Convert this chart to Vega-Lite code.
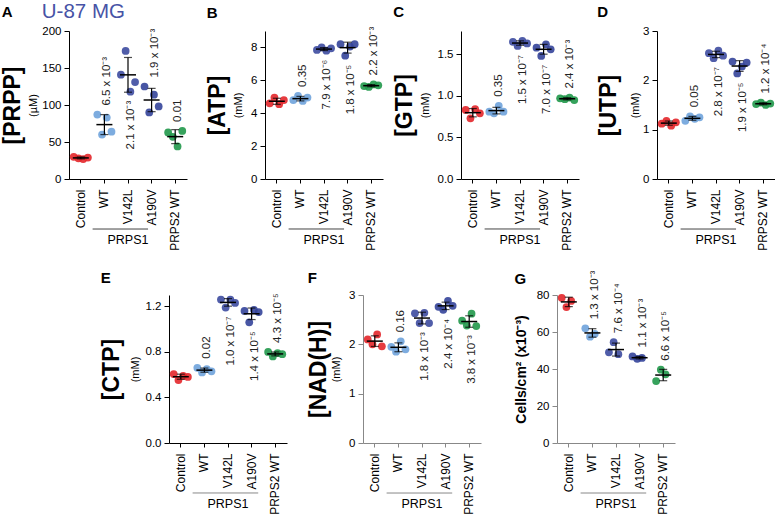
{
 "$schema": "https://vega.github.io/schema/vega-lite/v6.json",
 "padding": {"left": 1, "top": 2, "right": 0, "bottom": 0},
 "title": {"text": "U-87 MG", "fontSize": 20.5, "fontWeight": "normal", "color": "#4753A6", "anchor": "start", "dx": 40, "dy": 18, "offset": 0},
 "datasets": {
  "pts": [
   {"panel":"A","group":"Control","rep":1,"value":30},{"panel":"A","group":"Control","rep":2,"value":28},{"panel":"A","group":"Control","rep":3,"value":27},{"panel":"A","group":"Control","rep":4,"value":29},
   {"panel":"A","group":"WT","rep":1,"value":87},{"panel":"A","group":"WT","rep":2,"value":60},{"panel":"A","group":"WT","rep":3,"value":83},{"panel":"A","group":"WT","rep":4,"value":64},
   {"panel":"A","group":"V142L","rep":1,"value":141},{"panel":"A","group":"V142L","rep":2,"value":173},{"panel":"A","group":"V142L","rep":3,"value":118},{"panel":"A","group":"V142L","rep":4,"value":131},
   {"panel":"A","group":"A190V","rep":1,"value":125},{"panel":"A","group":"A190V","rep":2,"value":90},{"panel":"A","group":"A190V","rep":3,"value":114},{"panel":"A","group":"A190V","rep":4,"value":98},
   {"panel":"A","group":"PRPS2 WT","rep":1,"value":63},{"panel":"A","group":"PRPS2 WT","rep":2,"value":57},{"panel":"A","group":"PRPS2 WT","rep":3,"value":44},{"panel":"A","group":"PRPS2 WT","rep":4,"value":65},
   {"panel":"B","group":"Control","rep":1,"value":4.6},{"panel":"B","group":"Control","rep":2,"value":4.95},{"panel":"B","group":"Control","rep":3,"value":4.55},{"panel":"B","group":"Control","rep":4,"value":4.8},
   {"panel":"B","group":"WT","rep":1,"value":4.8},{"panel":"B","group":"WT","rep":2,"value":5.05},{"panel":"B","group":"WT","rep":3,"value":4.75},{"panel":"B","group":"WT","rep":4,"value":4.95},
   {"panel":"B","group":"V142L","rep":1,"value":7.85},{"panel":"B","group":"V142L","rep":2,"value":8.0},{"panel":"B","group":"V142L","rep":3,"value":7.8},{"panel":"B","group":"V142L","rep":4,"value":7.95},
   {"panel":"B","group":"A190V","rep":1,"value":8.2},{"panel":"B","group":"A190V","rep":2,"value":7.5},{"panel":"B","group":"A190V","rep":3,"value":8.05},{"panel":"B","group":"A190V","rep":4,"value":8.2},
   {"panel":"B","group":"PRPS2 WT","rep":1,"value":5.65},{"panel":"B","group":"PRPS2 WT","rep":2,"value":5.6},{"panel":"B","group":"PRPS2 WT","rep":3,"value":5.75},{"panel":"B","group":"PRPS2 WT","rep":4,"value":5.7},
   {"panel":"C","group":"Control","rep":1,"value":0.83},{"panel":"C","group":"Control","rep":2,"value":0.73},{"panel":"C","group":"Control","rep":3,"value":0.84},{"panel":"C","group":"Control","rep":4,"value":0.79},
   {"panel":"C","group":"WT","rep":1,"value":0.81},{"panel":"C","group":"WT","rep":2,"value":0.79},{"panel":"C","group":"WT","rep":3,"value":0.88},{"panel":"C","group":"WT","rep":4,"value":0.81},
   {"panel":"C","group":"V142L","rep":1,"value":1.65},{"panel":"C","group":"V142L","rep":2,"value":1.6},{"panel":"C","group":"V142L","rep":3,"value":1.66},{"panel":"C","group":"V142L","rep":4,"value":1.63},
   {"panel":"C","group":"A190V","rep":1,"value":1.58},{"panel":"C","group":"A190V","rep":2,"value":1.48},{"panel":"C","group":"A190V","rep":3,"value":1.62},{"panel":"C","group":"A190V","rep":4,"value":1.56},
   {"panel":"C","group":"PRPS2 WT","rep":1,"value":0.97},{"panel":"C","group":"PRPS2 WT","rep":2,"value":0.96},{"panel":"C","group":"PRPS2 WT","rep":3,"value":0.98},{"panel":"C","group":"PRPS2 WT","rep":4,"value":0.95},
   {"panel":"D","group":"Control","rep":1,"value":1.12},{"panel":"D","group":"Control","rep":2,"value":1.18},{"panel":"D","group":"Control","rep":3,"value":1.08},{"panel":"D","group":"Control","rep":4,"value":1.15},
   {"panel":"D","group":"WT","rep":1,"value":1.18},{"panel":"D","group":"WT","rep":2,"value":1.27},{"panel":"D","group":"WT","rep":3,"value":1.22},{"panel":"D","group":"WT","rep":4,"value":1.25},
   {"panel":"D","group":"V142L","rep":1,"value":2.55},{"panel":"D","group":"V142L","rep":2,"value":2.45},{"panel":"D","group":"V142L","rep":3,"value":2.6},{"panel":"D","group":"V142L","rep":4,"value":2.5},
   {"panel":"D","group":"A190V","rep":1,"value":2.38},{"panel":"D","group":"A190V","rep":2,"value":2.14},{"panel":"D","group":"A190V","rep":3,"value":2.28},{"panel":"D","group":"A190V","rep":4,"value":2.36},
   {"panel":"D","group":"PRPS2 WT","rep":1,"value":1.52},{"panel":"D","group":"PRPS2 WT","rep":2,"value":1.55},{"panel":"D","group":"PRPS2 WT","rep":3,"value":1.5},{"panel":"D","group":"PRPS2 WT","rep":4,"value":1.53},
   {"panel":"E","group":"Control","rep":1,"value":0.606},{"panel":"E","group":"Control","rep":2,"value":0.553},{"panel":"E","group":"Control","rep":3,"value":0.59},{"panel":"E","group":"Control","rep":4,"value":0.58},
   {"panel":"E","group":"WT","rep":1,"value":0.66},{"panel":"E","group":"WT","rep":2,"value":0.62},{"panel":"E","group":"WT","rep":3,"value":0.65},{"panel":"E","group":"WT","rep":4,"value":0.63},
   {"panel":"E","group":"V142L","rep":1,"value":1.26},{"panel":"E","group":"V142L","rep":2,"value":1.19},{"panel":"E","group":"V142L","rep":3,"value":1.26},{"panel":"E","group":"V142L","rep":4,"value":1.23},
   {"panel":"E","group":"A190V","rep":1,"value":1.16},{"panel":"E","group":"A190V","rep":2,"value":1.06},{"panel":"E","group":"A190V","rep":3,"value":1.17},{"panel":"E","group":"A190V","rep":4,"value":1.15},
   {"panel":"E","group":"PRPS2 WT","rep":1,"value":0.8},{"panel":"E","group":"PRPS2 WT","rep":2,"value":0.76},{"panel":"E","group":"PRPS2 WT","rep":3,"value":0.79},{"panel":"E","group":"PRPS2 WT","rep":4,"value":0.78},
   {"panel":"F","group":"Control","rep":1,"value":2.1},{"panel":"F","group":"Control","rep":2,"value":2.0},{"panel":"F","group":"Control","rep":3,"value":2.2},{"panel":"F","group":"Control","rep":4,"value":1.96},
   {"panel":"F","group":"WT","rep":1,"value":1.95},{"panel":"F","group":"WT","rep":2,"value":1.85},{"panel":"F","group":"WT","rep":3,"value":2.06},{"panel":"F","group":"WT","rep":4,"value":1.9},
   {"panel":"F","group":"V142L","rep":1,"value":2.63},{"panel":"F","group":"V142L","rep":2,"value":2.43},{"panel":"F","group":"V142L","rep":3,"value":2.64},{"panel":"F","group":"V142L","rep":4,"value":2.43},
   {"panel":"F","group":"A190V","rep":1,"value":2.76},{"panel":"F","group":"A190V","rep":2,"value":2.7},{"panel":"F","group":"A190V","rep":3,"value":2.88},{"panel":"F","group":"A190V","rep":4,"value":2.78},
   {"panel":"F","group":"PRPS2 WT","rep":1,"value":2.48},{"panel":"F","group":"PRPS2 WT","rep":2,"value":2.38},{"panel":"F","group":"PRPS2 WT","rep":3,"value":2.62},{"panel":"F","group":"PRPS2 WT","rep":4,"value":2.37},
   {"panel":"G","group":"Control","rep":1,"value":78.5},{"panel":"G","group":"Control","rep":2,"value":73.5},{"panel":"G","group":"Control","rep":3,"value":76.8},
   {"panel":"G","group":"WT","rep":1,"value":62},{"panel":"G","group":"WT","rep":2,"value":57.5},{"panel":"G","group":"WT","rep":3,"value":59},
   {"panel":"G","group":"V142L","rep":1,"value":49},{"panel":"G","group":"V142L","rep":2,"value":54.5},{"panel":"G","group":"V142L","rep":3,"value":48},
   {"panel":"G","group":"A190V","rep":1,"value":46.8},{"panel":"G","group":"A190V","rep":2,"value":45.5},{"panel":"G","group":"A190V","rep":3,"value":46},
   {"panel":"G","group":"PRPS2 WT","rep":1,"value":33.5},{"panel":"G","group":"PRPS2 WT","rep":2,"value":39.6},{"panel":"G","group":"PRPS2 WT","rep":3,"value":37.1}
  ],
  "grp": [{"label": "PRPS1", "from": "WT", "to": "A190V", "mid": "V142L"}],
  "pA": [{"group":"WT","p":"6.5 x 10⁻³","side":"up"},{"group":"V142L","p":"2.1 x 10⁻³","side":"down"},{"group":"A190V","p":"1.9 x 10⁻³","side":"up"},{"group":"PRPS2 WT","p":"0.01","side":"up"}],
  "pB": [{"group":"WT","p":"0.35","side":"up"},{"group":"V142L","p":"7.9 x 10⁻⁶","side":"down"},{"group":"A190V","p":"1.8 x 10⁻⁵","side":"down"},{"group":"PRPS2 WT","p":"2.2 x 10⁻³","side":"up"}],
  "pC": [{"group":"WT","p":"0.35","side":"up"},{"group":"V142L","p":"1.5 x 10⁻⁷","side":"down"},{"group":"A190V","p":"7.0 x 10⁻⁷","side":"down"},{"group":"PRPS2 WT","p":"2.4 x 10⁻³","side":"up"}],
  "pD": [{"group":"WT","p":"0.05","side":"up"},{"group":"V142L","p":"2.8 x 10⁻⁷","side":"down"},{"group":"A190V","p":"1.9 x 10⁻⁵","side":"down"},{"group":"PRPS2 WT","p":"1.2 x 10⁻⁴","side":"up"}],
  "pE": [{"group":"WT","p":"0.02","side":"up"},{"group":"V142L","p":"1.0  x 10⁻⁷","side":"down"},{"group":"A190V","p":"1.4 x 10⁻⁵","side":"down"},{"group":"PRPS2 WT","p":"4.3 x 10⁻⁵","side":"up"}],
  "pF": [{"group":"WT","p":"0.16","side":"up"},{"group":"V142L","p":"1.8 x 10⁻³","side":"down"},{"group":"A190V","p":"2.4 x 10⁻⁴","side":"down"},{"group":"PRPS2 WT","p":"3.8 x 10⁻³","side":"down"}],
  "pG": [{"group":"WT","p":"1.3 x 10⁻³","side":"up"},{"group":"V142L","p":"7.6 x 10⁻⁴","side":"up"},{"group":"A190V","p":"1.1 x 10⁻³","side":"up"},{"group":"PRPS2 WT","p":"6.6 x 10⁻⁵","side":"up"}]
 },
 "center": true,
 "spacing": 19,
 "vconcat": [
  {"hconcat": [
   {"width": 118, "height": 148, "title": {"text": "A", "offset": 5.5},
    "data": {"name": "pts"}, "transform": [{"filter": "datum.panel == 'A'"}],
    "encoding": {"x": {"field": "group", "type": "nominal", "scale": {"domain": ["Control","WT","V142L","A190V","PRPS2 WT"], "paddingInner": 0, "paddingOuter": 0}, "axis": {"title": null, "labelAngle": -90, "labelAlign": "right", "labelBaseline": "middle", "labelPadding": 6, "tickSize": 4, "labelFontSize": 12}}},
    "layer": [
     {"mark": {"type": "circle", "size": 60, "opacity": 0.9},
      "encoding": {"xOffset": {"field": "rep", "type": "nominal", "scale": {"type": "point", "padding": 2}},
       "y": {"field": "value", "type": "quantitative", "scale": {"domain": [0, 200], "nice": false}, "axis": {"orient": "left", "title": "(µM)", "values": [0,50,100,150,200], "titlePadding": 3.6}},
       "color": {"field": "group", "type": "nominal", "scale": {"domain": ["Control","WT","V142L","A190V","PRPS2 WT"], "range": ["#E3262A","#6FA3DB","#3D4BA0","#34449A","#20984A"]}, "legend": null}}},
     {"mark": {"type": "errorbar", "extent": "stdev", "ticks": {"size": 8}, "color": "black", "thickness": 1.2},
      "encoding": {"y": {"field": "value", "type": "quantitative", "axis": null}}},
     {"mark": {"type": "tick", "color": "black", "size": 16, "thickness": 1.5},
      "encoding": {"y": {"aggregate": "mean", "field": "value", "type": "quantitative", "axis": {"orient": "left", "title": "[PRPP]", "labels": false, "ticks": false, "domain": false, "titleFontSize": 23, "titleFontWeight": "bold", "titlePadding": 44.2, "maxExtent": 0}}}},
     {"transform": [{"aggregate": [{"op": "max", "field": "value", "as": "hi"}], "groupby": ["group"]}, {"lookup": "group", "from": {"data": {"name": "pA"}, "key": "group", "fields": ["p", "side"]}}, {"filter": "datum.side == 'up'"}],
      "mark": {"type": "text", "angle": 270, "align": "left", "baseline": "middle", "dx": 9, "dy": 3, "fontSize": 11.5, "color": "#222"},
      "encoding": {"y": {"field": "hi", "type": "quantitative", "axis": null}, "text": {"field": "p"}}},
     {"transform": [{"aggregate": [{"op": "min", "field": "value", "as": "lo"}], "groupby": ["group"]}, {"lookup": "group", "from": {"data": {"name": "pA"}, "key": "group", "fields": ["p", "side"]}}, {"filter": "datum.side == 'down'"}],
      "mark": {"type": "text", "angle": 270, "align": "right", "baseline": "middle", "dx": -9, "dy": 3, "fontSize": 11.5, "color": "#222"},
      "encoding": {"y": {"field": "lo", "type": "quantitative", "axis": null}, "text": {"field": "p"}}},
     {"data": {"name": "grp"}, "mark": {"type": "rule", "color": "#444", "strokeWidth": 1},
      "encoding": {"x": {"field": "from", "type": "nominal", "bandPosition": 0}, "x2": {"field": "to", "bandPosition": 0.35}, "y": {"datum": -67.6, "type": "quantitative", "axis": null}}},
     {"data": {"name": "grp"}, "mark": {"type": "text", "fontSize": 12.5, "baseline": "middle", "align": "center"},
      "encoding": {"x": {"field": "mid", "type": "nominal"}, "y": {"datum": -82.4, "type": "quantitative", "axis": null}, "text": {"field": "label"}}}
    ],
    "resolve": {"axis": {"y": "independent"}}},
   {"width": 118, "height": 148, "title": {"text": "B", "offset": 5.7},
    "data": {"name": "pts"}, "transform": [{"filter": "datum.panel == 'B'"}],
    "encoding": {"x": {"field": "group", "type": "nominal", "scale": {"domain": ["Control","WT","V142L","A190V","PRPS2 WT"], "paddingInner": 0, "paddingOuter": 0}, "axis": {"title": null, "labelAngle": -90, "labelAlign": "right", "labelBaseline": "middle", "labelPadding": 6, "tickSize": 4, "labelFontSize": 12}}},
    "layer": [
     {"mark": {"type": "circle", "size": 60, "opacity": 0.9},
      "encoding": {"xOffset": {"field": "rep", "type": "nominal", "scale": {"type": "point", "padding": 2}},
       "y": {"field": "value", "type": "quantitative", "scale": {"domain": [0, 9], "nice": false}, "axis": {"orient": "left", "title": "(mM)", "values": [0,2,4,6,8], "titlePadding": 6.9}},
       "color": {"field": "group", "type": "nominal", "scale": {"domain": ["Control","WT","V142L","A190V","PRPS2 WT"], "range": ["#E3262A","#6FA3DB","#3D4BA0","#34449A","#20984A"]}, "legend": null}}},
     {"mark": {"type": "errorbar", "extent": "stdev", "ticks": {"size": 8}, "color": "black", "thickness": 1.2},
      "encoding": {"y": {"field": "value", "type": "quantitative", "axis": null}}},
     {"mark": {"type": "tick", "color": "black", "size": 16, "thickness": 1.5},
      "encoding": {"y": {"aggregate": "mean", "field": "value", "type": "quantitative", "axis": {"orient": "left", "title": "[ATP]", "labels": false, "ticks": false, "domain": false, "titleFontSize": 23, "titleFontWeight": "bold", "titlePadding": 35.2, "maxExtent": 0}}}},
     {"transform": [{"aggregate": [{"op": "max", "field": "value", "as": "hi"}], "groupby": ["group"]}, {"lookup": "group", "from": {"data": {"name": "pB"}, "key": "group", "fields": ["p", "side"]}}, {"filter": "datum.side == 'up'"}],
      "mark": {"type": "text", "angle": 270, "align": "left", "baseline": "middle", "dx": 9, "dy": 3, "fontSize": 11.5, "color": "#222"},
      "encoding": {"y": {"field": "hi", "type": "quantitative", "axis": null}, "text": {"field": "p"}}},
     {"transform": [{"aggregate": [{"op": "min", "field": "value", "as": "lo"}], "groupby": ["group"]}, {"lookup": "group", "from": {"data": {"name": "pB"}, "key": "group", "fields": ["p", "side"]}}, {"filter": "datum.side == 'down'"}],
      "mark": {"type": "text", "angle": 270, "align": "right", "baseline": "middle", "dx": -9, "dy": 3, "fontSize": 11.5, "color": "#222"},
      "encoding": {"y": {"field": "lo", "type": "quantitative", "axis": null}, "text": {"field": "p"}}},
     {"data": {"name": "grp"}, "mark": {"type": "rule", "color": "#444", "strokeWidth": 1},
      "encoding": {"x": {"field": "from", "type": "nominal", "bandPosition": 0}, "x2": {"field": "to", "bandPosition": 0.35}, "y": {"datum": -3.04, "type": "quantitative", "axis": null}}},
     {"data": {"name": "grp"}, "mark": {"type": "text", "fontSize": 12.5, "baseline": "middle", "align": "center"},
      "encoding": {"x": {"field": "mid", "type": "nominal"}, "y": {"datum": -3.71, "type": "quantitative", "axis": null}, "text": {"field": "label"}}}
    ],
    "resolve": {"axis": {"y": "independent"}}},
   {"width": 118, "height": 148, "title": {"text": "C", "offset": 10.8},
    "data": {"name": "pts"}, "transform": [{"filter": "datum.panel == 'C'"}],
    "encoding": {"x": {"field": "group", "type": "nominal", "scale": {"domain": ["Control","WT","V142L","A190V","PRPS2 WT"], "paddingInner": 0, "paddingOuter": 0}, "axis": {"title": null, "labelAngle": -90, "labelAlign": "right", "labelBaseline": "middle", "labelPadding": 6, "tickSize": 4, "labelFontSize": 12}}},
    "layer": [
     {"mark": {"type": "circle", "size": 60, "opacity": 0.9},
      "encoding": {"xOffset": {"field": "rep", "type": "nominal", "scale": {"type": "point", "padding": 2}},
       "y": {"field": "value", "type": "quantitative", "scale": {"domain": [0, 1.78], "nice": false}, "axis": {"orient": "left", "title": "(mM)", "values": [0,0.5,1,1.5], "format": ".1f", "titlePadding": 6.8}},
       "color": {"field": "group", "type": "nominal", "scale": {"domain": ["Control","WT","V142L","A190V","PRPS2 WT"], "range": ["#E3262A","#6FA3DB","#3D4BA0","#34449A","#20984A"]}, "legend": null}}},
     {"mark": {"type": "errorbar", "extent": "stdev", "ticks": {"size": 8}, "color": "black", "thickness": 1.2},
      "encoding": {"y": {"field": "value", "type": "quantitative", "axis": null}}},
     {"mark": {"type": "tick", "color": "black", "size": 16, "thickness": 1.5},
      "encoding": {"y": {"aggregate": "mean", "field": "value", "type": "quantitative", "axis": {"orient": "left", "title": "[GTP]", "labels": false, "ticks": false, "domain": false, "titleFontSize": 23, "titleFontWeight": "bold", "titlePadding": 44.7, "maxExtent": 0}}}},
     {"transform": [{"aggregate": [{"op": "max", "field": "value", "as": "hi"}], "groupby": ["group"]}, {"lookup": "group", "from": {"data": {"name": "pC"}, "key": "group", "fields": ["p", "side"]}}, {"filter": "datum.side == 'up'"}],
      "mark": {"type": "text", "angle": 270, "align": "left", "baseline": "middle", "dx": 9, "dy": 3, "fontSize": 11.5, "color": "#222"},
      "encoding": {"y": {"field": "hi", "type": "quantitative", "axis": null}, "text": {"field": "p"}}},
     {"transform": [{"aggregate": [{"op": "min", "field": "value", "as": "lo"}], "groupby": ["group"]}, {"lookup": "group", "from": {"data": {"name": "pC"}, "key": "group", "fields": ["p", "side"]}}, {"filter": "datum.side == 'down'"}],
      "mark": {"type": "text", "angle": 270, "align": "right", "baseline": "middle", "dx": -9, "dy": 3, "fontSize": 11.5, "color": "#222"},
      "encoding": {"y": {"field": "lo", "type": "quantitative", "axis": null}, "text": {"field": "p"}}},
     {"data": {"name": "grp"}, "mark": {"type": "rule", "color": "#444", "strokeWidth": 1},
      "encoding": {"x": {"field": "from", "type": "nominal", "bandPosition": 0}, "x2": {"field": "to", "bandPosition": 0.35}, "y": {"datum": -0.601, "type": "quantitative", "axis": null}}},
     {"data": {"name": "grp"}, "mark": {"type": "text", "fontSize": 12.5, "baseline": "middle", "align": "center"},
      "encoding": {"x": {"field": "mid", "type": "nominal"}, "y": {"datum": -0.734, "type": "quantitative", "axis": null}, "text": {"field": "label"}}}
    ],
    "resolve": {"axis": {"y": "independent"}}},
   {"width": 118, "height": 148, "title": {"text": "D", "offset": 5.5},
    "data": {"name": "pts"}, "transform": [{"filter": "datum.panel == 'D'"}],
    "encoding": {"x": {"field": "group", "type": "nominal", "scale": {"domain": ["Control","WT","V142L","A190V","PRPS2 WT"], "paddingInner": 0, "paddingOuter": 0}, "axis": {"title": null, "labelAngle": -90, "labelAlign": "right", "labelBaseline": "middle", "labelPadding": 6, "tickSize": 4, "labelFontSize": 12}}},
    "layer": [
     {"mark": {"type": "circle", "size": 60, "opacity": 0.9},
      "encoding": {"xOffset": {"field": "rep", "type": "nominal", "scale": {"type": "point", "padding": 2}},
       "y": {"field": "value", "type": "quantitative", "scale": {"domain": [0, 3], "nice": false}, "axis": {"orient": "left", "title": "(mM)", "values": [0,1,2,3], "titlePadding": 2.4}},
       "color": {"field": "group", "type": "nominal", "scale": {"domain": ["Control","WT","V142L","A190V","PRPS2 WT"], "range": ["#E3262A","#6FA3DB","#3D4BA0","#34449A","#20984A"]}, "legend": null}}},
     {"mark": {"type": "errorbar", "extent": "stdev", "ticks": {"size": 8}, "color": "black", "thickness": 1.2},
      "encoding": {"y": {"field": "value", "type": "quantitative", "axis": null}}},
     {"mark": {"type": "tick", "color": "black", "size": 16, "thickness": 1.5},
      "encoding": {"y": {"aggregate": "mean", "field": "value", "type": "quantitative", "axis": {"orient": "left", "title": "[UTP]", "labels": false, "ticks": false, "domain": false, "titleFontSize": 23, "titleFontWeight": "bold", "titlePadding": 36.7, "maxExtent": 0}}}},
     {"transform": [{"aggregate": [{"op": "max", "field": "value", "as": "hi"}], "groupby": ["group"]}, {"lookup": "group", "from": {"data": {"name": "pD"}, "key": "group", "fields": ["p", "side"]}}, {"filter": "datum.side == 'up'"}],
      "mark": {"type": "text", "angle": 270, "align": "left", "baseline": "middle", "dx": 9, "dy": 3, "fontSize": 11.5, "color": "#222"},
      "encoding": {"y": {"field": "hi", "type": "quantitative", "axis": null}, "text": {"field": "p"}}},
     {"transform": [{"aggregate": [{"op": "min", "field": "value", "as": "lo"}], "groupby": ["group"]}, {"lookup": "group", "from": {"data": {"name": "pD"}, "key": "group", "fields": ["p", "side"]}}, {"filter": "datum.side == 'down'"}],
      "mark": {"type": "text", "angle": 270, "align": "right", "baseline": "middle", "dx": -9, "dy": 3, "fontSize": 11.5, "color": "#222"},
      "encoding": {"y": {"field": "lo", "type": "quantitative", "axis": null}, "text": {"field": "p"}}},
     {"data": {"name": "grp"}, "mark": {"type": "rule", "color": "#444", "strokeWidth": 1},
      "encoding": {"x": {"field": "from", "type": "nominal", "bandPosition": 0}, "x2": {"field": "to", "bandPosition": 0.35}, "y": {"datum": -1.014, "type": "quantitative", "axis": null}}},
     {"data": {"name": "grp"}, "mark": {"type": "text", "fontSize": 12.5, "baseline": "middle", "align": "center"},
      "encoding": {"x": {"field": "mid", "type": "nominal"}, "y": {"datum": -1.237, "type": "quantitative", "axis": null}, "text": {"field": "label"}}}
    ],
    "resolve": {"axis": {"y": "independent"}}}
  ], "spacing": 78, "bounds": "flush"},
  {"hconcat": [
   {"width": 118, "height": 148, "title": {"text": "E", "offset": 7.2},
    "data": {"name": "pts"}, "transform": [{"filter": "datum.panel == 'E'"}],
    "encoding": {"x": {"field": "group", "type": "nominal", "scale": {"domain": ["Control","WT","V142L","A190V","PRPS2 WT"], "paddingInner": 0, "paddingOuter": 0}, "axis": {"title": null, "labelAngle": -90, "labelAlign": "right", "labelBaseline": "middle", "labelPadding": 6, "tickSize": 4, "labelFontSize": 12}}},
    "layer": [
     {"mark": {"type": "circle", "size": 60, "opacity": 0.9},
      "encoding": {"xOffset": {"field": "rep", "type": "nominal", "scale": {"type": "point", "padding": 2}},
       "y": {"field": "value", "type": "quantitative", "scale": {"domain": [0, 1.3], "nice": false}, "axis": {"orient": "left", "title": "(mM)", "values": [0,0.4,0.8,1.2], "format": ".1f", "titlePadding": 4.3}},
       "color": {"field": "group", "type": "nominal", "scale": {"domain": ["Control","WT","V142L","A190V","PRPS2 WT"], "range": ["#E3262A","#6FA3DB","#3D4BA0","#34449A","#20984A"]}, "legend": null}}},
     {"mark": {"type": "errorbar", "extent": "stdev", "ticks": {"size": 8}, "color": "black", "thickness": 1.2},
      "encoding": {"y": {"field": "value", "type": "quantitative", "axis": null}}},
     {"mark": {"type": "tick", "color": "black", "size": 16, "thickness": 1.5},
      "encoding": {"y": {"aggregate": "mean", "field": "value", "type": "quantitative", "axis": {"orient": "left", "title": "[CTP]", "labels": false, "ticks": false, "domain": false, "titleFontSize": 23, "titleFontWeight": "bold", "titlePadding": 45.2, "maxExtent": 0}}}},
     {"transform": [{"aggregate": [{"op": "max", "field": "value", "as": "hi"}], "groupby": ["group"]}, {"lookup": "group", "from": {"data": {"name": "pE"}, "key": "group", "fields": ["p", "side"]}}, {"filter": "datum.side == 'up'"}],
      "mark": {"type": "text", "angle": 270, "align": "left", "baseline": "middle", "dx": 9, "dy": 3, "fontSize": 11.5, "color": "#222"},
      "encoding": {"y": {"field": "hi", "type": "quantitative", "axis": null}, "text": {"field": "p"}}},
     {"transform": [{"aggregate": [{"op": "min", "field": "value", "as": "lo"}], "groupby": ["group"]}, {"lookup": "group", "from": {"data": {"name": "pE"}, "key": "group", "fields": ["p", "side"]}}, {"filter": "datum.side == 'down'"}],
      "mark": {"type": "text", "angle": 270, "align": "right", "baseline": "middle", "dx": -9, "dy": 3, "fontSize": 11.5, "color": "#222"},
      "encoding": {"y": {"field": "lo", "type": "quantitative", "axis": null}, "text": {"field": "p"}}},
     {"data": {"name": "grp"}, "mark": {"type": "rule", "color": "#888", "strokeWidth": 1},
      "encoding": {"x": {"field": "from", "type": "nominal", "bandPosition": 0}, "x2": {"field": "to", "bandPosition": 0.78}, "y": {"datum": -0.439, "type": "quantitative", "axis": null}}},
     {"data": {"name": "grp"}, "mark": {"type": "text", "fontSize": 12.5, "baseline": "middle", "align": "center"},
      "encoding": {"x": {"field": "mid", "type": "nominal"}, "y": {"datum": -0.536, "type": "quantitative", "axis": null}, "text": {"field": "label"}}}
    ],
    "resolve": {"axis": {"y": "independent"}}},
   {"width": 118, "height": 148, "title": {"text": "F", "offset": 3.5},
    "data": {"name": "pts"}, "transform": [{"filter": "datum.panel == 'F'"}],
    "encoding": {"x": {"field": "group", "type": "nominal", "scale": {"domain": ["Control","WT","V142L","A190V","PRPS2 WT"], "paddingInner": 0, "paddingOuter": 0}, "axis": {"title": null, "labelAngle": -90, "labelAlign": "right", "labelBaseline": "middle", "labelPadding": 6, "tickSize": 4, "labelFontSize": 12, "domainColor": "#888", "tickColor": "#888"}}},
    "layer": [
     {"mark": {"type": "circle", "size": 60, "opacity": 0.9},
      "encoding": {"xOffset": {"field": "rep", "type": "nominal", "scale": {"type": "point", "padding": 2}},
       "y": {"field": "value", "type": "quantitative", "scale": {"domain": [0, 3], "nice": false}, "axis": {"orient": "left", "title": "(mM)", "values": [0,1,2,3], "titlePadding": 6.9, "domainColor": "#888", "tickColor": "#888"}},
       "color": {"field": "group", "type": "nominal", "scale": {"domain": ["Control","WT","V142L","A190V","PRPS2 WT"], "range": ["#E3262A","#6FA3DB","#3D4BA0","#34449A","#20984A"]}, "legend": null}}},
     {"mark": {"type": "errorbar", "extent": "stdev", "ticks": {"size": 8}, "color": "black", "thickness": 1.2},
      "encoding": {"y": {"field": "value", "type": "quantitative", "axis": null}}},
     {"mark": {"type": "tick", "color": "black", "size": 16, "thickness": 1.5},
      "encoding": {"y": {"aggregate": "mean", "field": "value", "type": "quantitative", "axis": {"orient": "left", "title": "[NAD(H)]", "labels": false, "ticks": false, "domain": false, "titleFontSize": 23, "titleFontWeight": "bold", "titlePadding": 32.2, "maxExtent": 0}}}},
     {"transform": [{"aggregate": [{"op": "max", "field": "value", "as": "hi"}], "groupby": ["group"]}, {"lookup": "group", "from": {"data": {"name": "pF"}, "key": "group", "fields": ["p", "side"]}}, {"filter": "datum.side == 'up'"}],
      "mark": {"type": "text", "angle": 270, "align": "left", "baseline": "middle", "dx": 9, "dy": 3, "fontSize": 11.5, "color": "#222"},
      "encoding": {"y": {"field": "hi", "type": "quantitative", "axis": null}, "text": {"field": "p"}}},
     {"transform": [{"aggregate": [{"op": "min", "field": "value", "as": "lo"}], "groupby": ["group"]}, {"lookup": "group", "from": {"data": {"name": "pF"}, "key": "group", "fields": ["p", "side"]}}, {"filter": "datum.side == 'down'"}],
      "mark": {"type": "text", "angle": 270, "align": "right", "baseline": "middle", "dx": -9, "dy": 3, "fontSize": 11.5, "color": "#222"},
      "encoding": {"y": {"field": "lo", "type": "quantitative", "axis": null}, "text": {"field": "p"}}},
     {"data": {"name": "grp"}, "mark": {"type": "rule", "color": "#888", "strokeWidth": 1},
      "encoding": {"x": {"field": "from", "type": "nominal", "bandPosition": 0}, "x2": {"field": "to", "bandPosition": 0.78}, "y": {"datum": -1.014, "type": "quantitative", "axis": null}}},
     {"data": {"name": "grp"}, "mark": {"type": "text", "fontSize": 12.5, "baseline": "middle", "align": "center"},
      "encoding": {"x": {"field": "mid", "type": "nominal"}, "y": {"datum": -1.237, "type": "quantitative", "axis": null}, "text": {"field": "label"}}}
    ],
    "resolve": {"axis": {"y": "independent"}}},
   {"width": 118, "height": 148, "title": {"text": "G", "offset": -16.4},
    "data": {"name": "pts"}, "transform": [{"filter": "datum.panel == 'G'"}],
    "encoding": {"x": {"field": "group", "type": "nominal", "scale": {"domain": ["Control","WT","V142L","A190V","PRPS2 WT"], "paddingInner": 0, "paddingOuter": 0}, "axis": {"title": null, "labelAngle": -90, "labelAlign": "right", "labelBaseline": "middle", "labelPadding": 6, "tickSize": 4, "labelFontSize": 12, "domainColor": "#888", "tickColor": "#888"}}},
    "layer": [
     {"mark": {"type": "circle", "size": 60, "opacity": 0.9},
      "encoding": {"xOffset": {"field": "rep", "type": "nominal", "scale": {"type": "point", "padding": 1.5}},
       "y": {"field": "value", "type": "quantitative", "scale": {"domain": [0, 80], "nice": false}, "axis": {"orient": "left", "title": "Cells/cm² (x10⁻³)", "titleFontSize": 14, "titleFontWeight": "bold", "values": [0,20,40,60,80], "titlePadding": 7.6, "domainColor": "#888", "tickColor": "#888"}},
       "color": {"field": "group", "type": "nominal", "scale": {"domain": ["Control","WT","V142L","A190V","PRPS2 WT"], "range": ["#E3262A","#6FA8DE","#3D4BA0","#34449A","#34A94B"]}, "legend": null}}},
     {"mark": {"type": "errorbar", "extent": "stdev", "ticks": {"size": 8}, "color": "black", "thickness": 1.2},
      "encoding": {"y": {"field": "value", "type": "quantitative", "axis": null}}},
     {"mark": {"type": "tick", "color": "black", "size": 16, "thickness": 1.5},
      "encoding": {"y": {"aggregate": "mean", "field": "value", "type": "quantitative", "axis": null}}},
     {"transform": [{"aggregate": [{"op": "max", "field": "value", "as": "hi"}], "groupby": ["group"]}, {"lookup": "group", "from": {"data": {"name": "pG"}, "key": "group", "fields": ["p", "side"]}}, {"filter": "datum.side == 'up'"}],
      "mark": {"type": "text", "angle": 270, "align": "left", "baseline": "middle", "dx": 9, "dy": 3, "fontSize": 11.5, "color": "#222"},
      "encoding": {"y": {"field": "hi", "type": "quantitative", "axis": null}, "text": {"field": "p"}}},
     {"data": {"name": "grp"}, "mark": {"type": "rule", "color": "#888", "strokeWidth": 1},
      "encoding": {"x": {"field": "from", "type": "nominal", "bandPosition": 0}, "x2": {"field": "to", "bandPosition": 0.78}, "y": {"datum": -27.03, "type": "quantitative", "axis": null}}},
     {"data": {"name": "grp"}, "mark": {"type": "text", "fontSize": 12.5, "baseline": "middle", "align": "center"},
      "encoding": {"x": {"field": "mid", "type": "nominal"}, "y": {"datum": -32.97, "type": "quantitative", "axis": null}, "text": {"field": "label"}}}
    ],
    "resolve": {"axis": {"y": "independent"}}}
  ], "spacing": 76, "bounds": "flush"}
 ],
 "config": {
  "view": {"stroke": null},
  "font": "Liberation Sans",
  "text": {"font": "Liberation Sans"},
  "axis": {"labelFont": "Liberation Sans", "titleFont": "Liberation Sans", "labelFontSize": 11.5, "titleFontSize": 11, "titleFontWeight": "normal", "labelColor": "black", "titleColor": "black", "domainColor": "black", "tickColor": "black", "tickSize": 5, "labelPadding": 3, "grid": false, "minExtent": 0},
  "title": {"font": "Liberation Sans", "fontSize": 15, "fontWeight": "bold", "anchor": "start", "color": "black"}
 }
}
